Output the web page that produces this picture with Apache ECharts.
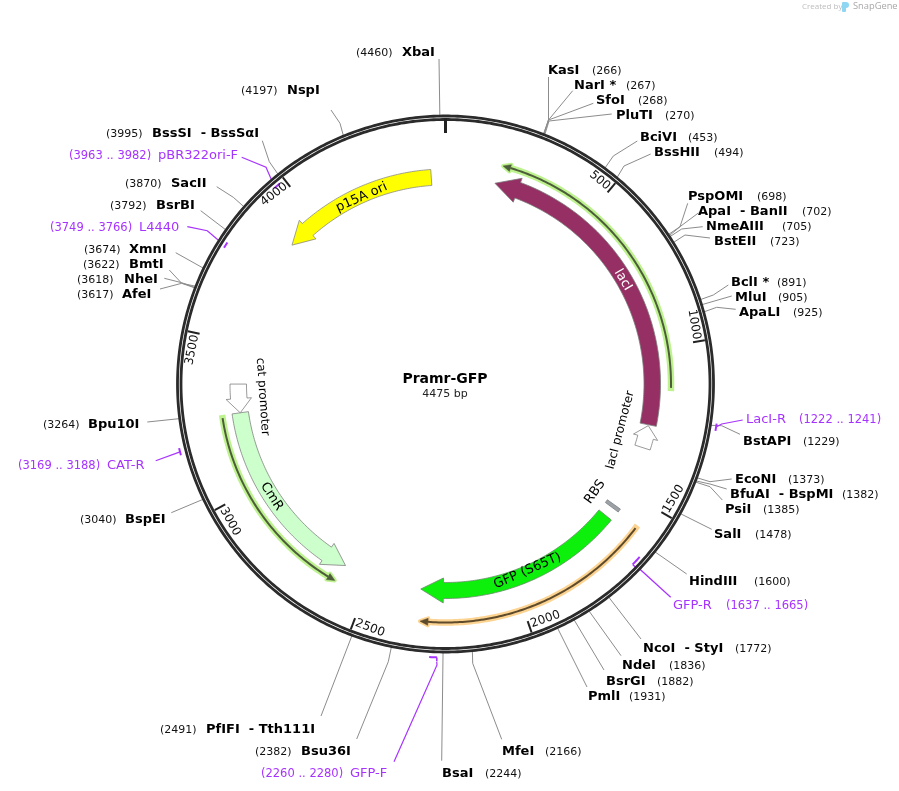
<!DOCTYPE html>
<html>
<head>
<meta charset="utf-8">
<title>Pramr-GFP</title>
<style>
html, body { margin: 0; background: #fff; }
#main { width: 899px; height: 791px; }
</style>
<script src="https://cdn.jsdelivr.net/npm/echarts@6/dist/echarts.min.js"></script>
</head>
<body>
<div id="main"></div>
<script>
// plasmid
var plasmidName = 'Pramr-GFP';
var plasmidLength = 4475;

// backbone ticks
var tickValues = [500, 1000, 1500, 2000, 2500, 3000, 3500, 4000];

// restriction sites
var siteNames = ['XbaI', 'KasI', 'NarI *', 'SfoI', 'PluTI', 'BciVI', 'BssHII', 'PspOMI', 'ApaI  - BanII', 'NmeAIII',
    'BstEII', 'BclI *', 'MluI', 'ApaLI', 'BstAPI', 'EcoNI', 'BfuAI  - BspMI', 'PsiI', 'SalI', 'HindIII',
    'NcoI  - StyI', 'NdeI', 'BsrGI', 'PmlI', 'MfeI', 'BsaI', 'Bsu36I', 'PfIFI  - Tth111I', 'BspEI', 'Bpu10I',
    'AfeI', 'NheI', 'BmtI', 'XmnI', 'BsrBI', 'SacII', 'BssSI  - BssSαI', 'NspI'];
var sitePositions = [4460, 266, 267, 268, 270, 453, 494, 698, 702, 705,
    723, 891, 905, 925, 1229, 1373, 1382, 1385, 1478, 1600,
    1772, 1836, 1882, 1931, 2166, 2244, 2382, 2491, 3040, 3264,
    3617, 3618, 3622, 3674, 3792, 3870, 3995, 4197];

// primers
var primerNames = ['LacI-R', 'GFP-R', 'GFP-F', 'CAT-R', 'L4440', 'pBR322ori-F'];
var primerFrom = [1222, 1637, 2260, 3169, 3749, 3963];
var primerTo = [1241, 1665, 2280, 3188, 3766, 3982];

// features, from tail to arrow tip
var featureNames = ['lacI', 'p15A ori', 'GFP (S65T)', 'CmR', 'lacI promoter', 'cat promoter', 'RBS'];
var featureFrom = [1260, 4426, 1608, 3257, 1341, 3356, 1561];
var featureTo = [172, 3880, 2323, 2596, 1263, 3257, 1573];

// thin annotated arrows next to the features
var trackFrom = [1131, 1581, 3248];
var trackTo = [184, 2314, 2603];

// ---- layout and styles ----
var FONT = '"DejaVu Sans"';
var LINE_GREY = '#8c8c8c';
var PURPLE = '#a733ff';
var RING = '#2b2b2b';

// [name x, y, position x, bend points from the label towards the ring]
var siteLabelAt = [
    [402, 52, 356, [[439, 59]]],
    [548, 70, 592, [[548.5, 77], [548.5, 120]]],
    [574, 85, 626, [[572.7, 90.7], [548.5, 120]]],
    [596, 100, 638, [[593.3, 103.3], [548.5, 120]]],
    [616, 115, 665, [[611.7, 114], [549, 121]]],
    [640, 137, 688, [[637.3, 141], [613.3, 156]]],
    [654, 152, 714, [[650.7, 154], [624, 166]]],
    [688, 196, 757, [[687.7, 203.3], [680, 226.7]]],
    [698, 211, 802, [[698.3, 213], [680, 226.7]]],
    [706, 226, 782, [[702.7, 226.7], [681.7, 229]]],
    [714, 241, 770, [[710, 238], [685, 235]]],
    [731, 282, 777, [[728.3, 285], [713.3, 295]]],
    [735, 297, 778, [[731.7, 296]]],
    [739, 312, 793, [[735.7, 309.3], [716.7, 307.3]]],
    [743, 441, 803, [[740, 434.3], [721.7, 425.7]]],
    [735, 479, 788, [[731.7, 479], [710, 481.7]]],
    [730, 494, 842, [[726.7, 489], [710, 484]]],
    [725, 509, 763, [[722.3, 500], [710, 486.7]]],
    [714, 534, 755, [[711.7, 529.3]]],
    [689, 581, 754, [[686.7, 574]]],
    [643, 648, 735, [[641, 639]]],
    [622, 665, 669, [[621, 655.7]]],
    [606, 681, 657, [[604, 670]]],
    [588, 696, 629, [[587, 687]]],
    [502, 751, 545, [[501.7, 739.3], [472.7, 663.3]]],
    [442, 773, 485, [[441.7, 760.7]]],
    [301, 751, 255, [[356.7, 739], [388.3, 661.7]]],
    [206, 729, 160, [[321, 716]]],
    [125, 519, 80, [[171.3, 512.7]]],
    [88, 424, 43, [[147.3, 422]]],
    [122, 294, 77, [[160, 289], [181.7, 283.3]]],
    [124, 279, 77, [[164.3, 278.3], [181.7, 282.7]]],
    [129, 264, 83, [[169.3, 270], [181.7, 283.3]]],
    [129, 249, 84, [[175.7, 252.7]]],
    [156, 205, 110, [[200.7, 210.7]]],
    [171, 183, 125, [[216.7, 186.7], [233.3, 197.3]]],
    [152, 133, 106, [[262.3, 140.7], [269.3, 161.7]]],
    [287, 90, 241, [[331, 110], [340, 123.3]]]
];

// [name x, y, position x, mark radius, hook at 'from' or 'to', bend points, leader end as [radius, bp]]
var primerLabelAt = [
    [746, 419, 799, 274, null, [[742.7, 420], [721.7, 424]], [274, 1231]],
    [673, 605, 726, 260, 'to', [[670.7, 597.3], [640, 569.3]], [268, 1651]],
    [350, 773, 261, 273.5, 'from', [[394, 761.7], [437, 665]], [278, 2260]],
    [107, 465, 18, 274, null, [[155.7, 460.7]], [274, 3178]],
    [139, 227, 50, 260, null, [[187.3, 226.7], [207.3, 230.7]], [268, 3758]],
    [158, 155, 69, 260, null, [[241.7, 157.3], [266, 167.3]], [268, 3972]]
];

// fill, stroke, inner radius, outer radius, head length (bp), wing (px)
var featureStyle = [
    ['#962f63', '#7a7a7a', 198.5, 215, 82, 4.5],
    ['#ffff00', '#8a8a8a', 199, 215, 76, 4.5],
    ['#0cf00c', '#6a8a6a', 198.5, 214.5, 78, 4.5],
    ['#ccffcc', '#808080', 199, 215.5, 76, 4.5],
    ['#ffffff', '#808080', 199, 215, 41, 4.5],
    ['#ffffff', '#808080', 199, 215.5, 49, 4.5],
    ['#9aa2a8', '#808080', 199, 215, 0, 0]
];

// label bp, label radius, text colour, font size
var featureLabelAt = [
    [741, 205.7, '#ffffff', 13],
    [4174, 204.6, '#000', 13],
    [1943, 204, '#000', 13],
    [2947, 207, '#000', 13],
    [1302, 181, '#000', 12],
    [3307, 183.4, '#000', 12],
    [1564, 184.4, '#000', 13]
];

// radius, halo colour, line colour
var trackStyle = [
    [225.5, '#bdf28f', '#4d5c3a'],
    [238.5, '#fcd391', '#5e4b2c'],
    [225.5, '#bdf28f', '#4d5c3a']
];

// the bp at the tick or label is turned into text rotation along the circle
function tangentRotation(bp) {
    var deg = bp / plasmidLength * 360;
    if (deg > 90 && deg < 270) deg -= 180;
    else if (deg >= 270) deg -= 360;
    return -deg * Math.PI / 180;
}

function arcPoints(api, r, a, b) {
    var pts = [];
    var n = Math.max(1, Math.ceil(Math.abs(b - a) / 8));
    for (var i = 0; i <= n; i++) {
        pts.push(api.coord([r, a + (b - a) * i / n]).slice(0, 2));
    }
    return pts;
}

function text(x, y, str, font, fill, align, rotation) {
    return {
        type: 'text',
        x: x,
        y: y,
        rotation: rotation || 0,
        style: { text: str, font: font, fill: fill, align: align || 'left', verticalAlign: 'middle' }
    };
}

function renderRing(params, api) {
    var parts = [];
    [268, 264.5].forEach(function (r) {
        parts.push({
            type: 'polyline',
            shape: { points: arcPoints(api, r, 0, plasmidLength) },
            style: { stroke: RING, lineWidth: 2.8, fill: null }
        });
    });
    parts.push({
        type: 'line',
        shape: { x1: api.coord([266, 0])[0], y1: api.coord([266, 0])[1], x2: api.coord([251, 0])[0], y2: api.coord([251, 0])[1] },
        style: { stroke: '#222', lineWidth: 3 }
    });
    return { type: 'group', children: parts };
}

function renderTick(params, api) {
    var bp = tickValues[params.dataIndex];
    var a = api.coord([263, bp]);
    var b = api.coord([251, bp]);
    var deg = bp / plasmidLength * 360;
    var c = api.coord([255, bp - 6]);
    var align = (deg > 90 && deg < 270) ? 'left' : 'right';
    return {
        type: 'group',
        children: [
            { type: 'line', shape: { x1: a[0], y1: a[1], x2: b[0], y2: b[1] }, style: { stroke: '#222', lineWidth: 2 } },
            text(c[0], c[1], String(bp), '12px ' + FONT, '#111', align, tangentRotation(bp))
        ]
    };
}

function renderSite(params, api) {
    var i = params.dataIndex;
    var at = siteLabelAt[i];
    var end = api.coord([268, sitePositions[i]]).slice(0, 2);
    return {
        type: 'group',
        children: [
            { type: 'polyline', shape: { points: at[3].concat([end]) }, style: { stroke: LINE_GREY, lineWidth: 1, fill: null } },
            text(at[0], at[1] + 1, siteNames[i], 'bold 13px ' + FONT, '#000'),
            text(at[2], at[1] + 1, '(' + sitePositions[i] + ')', '11px ' + FONT, '#111')
        ]
    };
}

function renderPrimer(params, api) {
    var i = params.dataIndex;
    var at = primerLabelAt[i];
    var r = at[3];
    var end = api.coord(at[6]).slice(0, 2);
    var parts = [
        { type: 'polyline', shape: { points: at[5].concat([end]) }, style: { stroke: PURPLE, lineWidth: 1.2, fill: null } },
        { type: 'polyline', shape: { points: arcPoints(api, r, primerFrom[i], primerTo[i]) }, style: { stroke: PURPLE, lineWidth: 2, fill: null } },
        text(at[0], at[1] + 1, primerNames[i], '13px ' + FONT, PURPLE),
        text(at[2], at[1] + 1, '(' + primerFrom[i] + ' .. ' + primerTo[i] + ')', '11.5px ' + FONT, PURPLE)
    ];
    if (at[4]) {
        var hookBp = at[4] === 'from' ? primerFrom[i] : primerTo[i];
        parts.push({
            type: 'polyline',
            shape: { points: [api.coord([r, hookBp]).slice(0, 2), api.coord([r + 4, hookBp]).slice(0, 2)] },
            style: { stroke: PURPLE, lineWidth: 1.5, fill: null }
        });
    }
    return { type: 'group', children: parts };
}

function renderFeature(params, api) {
    var i = params.dataIndex;
    var st = featureStyle[i];
    var from = featureFrom[i], to = featureTo[i];
    var dir = to > from ? 1 : -1;
    var rIn = st[2], rOut = st[3], head = st[4], wing = st[5];
    var base = to - dir * head;
    var pts = arcPoints(api, rOut, from, base);
    if (head > 0) {
        pts.push(api.coord([rOut + wing, base]).slice(0, 2));
        pts.push(api.coord([(rIn + rOut) / 2, to]).slice(0, 2));
        pts.push(api.coord([rIn - wing, base]).slice(0, 2));
    }
    pts = pts.concat(arcPoints(api, rIn, base, from));
    var la = featureLabelAt[i];
    var c = api.coord([la[1], la[0]]);
    return {
        type: 'group',
        children: [
            { type: 'polygon', shape: { points: pts }, style: { fill: st[0], stroke: st[1], lineWidth: 0.8 } },
            text(c[0], c[1], featureNames[i], la[3] + 'px ' + FONT, la[2], 'center', tangentRotation(la[0]))
        ]
    };
}

function renderTrack(params, api) {
    var i = params.dataIndex;
    var st = trackStyle[i];
    var from = trackFrom[i], to = trackTo[i];
    var dir = to > from ? 1 : -1;
    var r = st[0];
    var back = to - dir * 24;
    var line = arcPoints(api, r, from, back);
    var head = [
        api.coord([r, to]).slice(0, 2),
        api.coord([r + 3.5, back]).slice(0, 2),
        api.coord([r - 3.5, back]).slice(0, 2)
    ];
    return {
        type: 'group',
        children: [
            { type: 'polyline', shape: { points: line }, style: { stroke: st[1], lineWidth: 6.5, fill: null, lineCap: 'square' } },
            { type: 'polygon', shape: { points: head }, style: { fill: st[1], stroke: st[1], lineWidth: 4, lineJoin: 'round' } },
            { type: 'polyline', shape: { points: line }, style: { stroke: st[2], lineWidth: 2, fill: null } },
            { type: 'polygon', shape: { points: head }, style: { fill: st[2], stroke: st[2], lineWidth: 0.5 } }
        ]
    };
}

function customSeries(values, fn) {
    return {
        type: 'custom',
        coordinateSystem: 'polar',
        silent: true,
        renderItem: fn,
        data: values.map(function (bp) { return [200, bp]; })
    };
}

var myChart = echarts.init(document.getElementById('main'));

var option = {
    animation: false,
    backgroundColor: '#fff',
    polar: { center: [445.5, 384], radius: 300 },
    angleAxis: { show: false, type: 'value', min: 0, max: plasmidLength, startAngle: 90, clockwise: true },
    radiusAxis: { show: false, type: 'value', min: 0, max: 300 },
    title: {
        text: plasmidName,
        subtext: plasmidLength + ' bp',
        left: 445,
        top: 372,
        textAlign: 'center',
        itemGap: 3,
        textStyle: { fontFamily: FONT, fontSize: 14, fontWeight: 'bold', color: '#000' },
        subtextStyle: { fontFamily: FONT, fontSize: 11, color: '#222' },
        padding: 0
    },
    graphic: [
        { type: 'text', left: 802, top: 3, style: { text: 'Created by', font: '8px "Open Sans"', fill: '#bdbdbd' } },
        { type: 'rect', left: 842, top: 2, shape: { width: 4, height: 10, r: 1 }, style: { fill: '#8fd6f2' } },
        { type: 'circle', left: 843, top: 2, shape: { r: 3 }, style: { fill: '#8fd6f2' } },
        { type: 'text', left: 853, top: 2, style: { text: 'SnapGene', font: '9.3px "Open Sans"', fill: '#a8a8a8' } }
    ],
    series: [
        customSeries(sitePositions, renderSite),
        customSeries(primerFrom, renderPrimer),
        customSeries([0], renderRing),
        customSeries(tickValues, renderTick),
        customSeries(trackFrom, renderTrack),
        customSeries(featureFrom, renderFeature)
    ]
};

myChart.setOption(option);
window.addEventListener('resize', function () {
    myChart.resize();
});
</script>
</body>
</html>
